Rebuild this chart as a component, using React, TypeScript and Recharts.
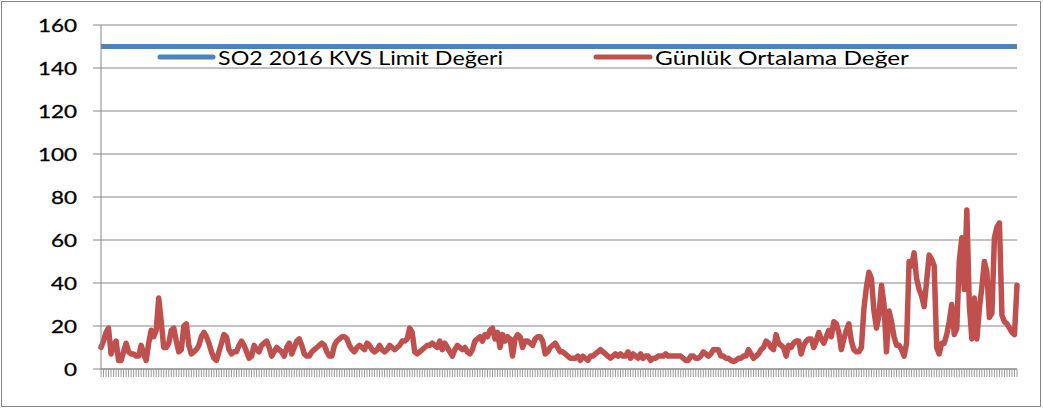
import { LineChart, Line, XAxis, YAxis, CartesianGrid } from "recharts";

// daily SO2 averages, 2016, one array per month
const jan = [10, 13, 17, 19, 7, 11, 13, 4, 4, 8, 12, 8, 7, 7, 6, 6, 11, 7, 4, 12, 18, 15, 18, 33, 22, 10, 10, 12, 18, 19, 13];
const feb = [8, 9, 20, 21, 11, 7, 8, 9, 11, 15, 17, 15, 12, 8, 5, 4, 8, 12, 16, 15, 9, 7, 8, 8, 11, 13, 11, 8, 5];
const mar = [6, 11, 9, 8, 11, 12, 13, 10, 6, 8, 10, 9, 8, 6, 10, 12, 7, 10, 13, 14, 11, 7, 6, 6, 8, 9, 10, 11, 12, 11, 8];
const apr = [6, 6, 11, 13, 14, 15, 15, 14, 11, 9, 8, 10, 11, 10, 9, 12, 11, 9, 8, 9, 11, 9, 8, 9, 11, 10, 9, 10, 11, 13];
const may = [13, 14, 19, 17, 8, 7, 8, 9, 10, 11, 11, 12, 11, 10, 13, 9, 12, 10, 8, 6, 9, 11, 10, 9, 10, 8, 7, 9, 13, 14, 15];
const jun = [13, 16, 15, 18, 19, 14, 17, 10, 16, 13, 15, 14, 6, 14, 16, 15, 10, 13, 13, 12, 11, 14, 15, 15, 13, 7, 8, 10, 11, 12];
const jul = [10, 8, 8, 7, 6, 5, 5, 5, 6, 4, 6, 5, 4, 6, 6, 7, 8, 9, 8, 7, 6, 5, 6, 7, 6, 7, 6, 6, 8, 5, 7];
const aug = [6, 5, 7, 5, 6, 6, 4, 5, 5, 6, 6, 6, 7, 6, 6, 6, 6, 6, 6, 5, 4, 4, 6, 6, 5, 5, 6, 8, 7, 6, 7];
const sep = [9, 9, 9, 6, 6, 5, 5, 4, 3.5, 4, 5, 5, 6, 6, 9, 7, 5, 6, 7, 9, 10, 13, 12, 10, 9, 16, 12, 11, 10, 6];
const oct = [11, 10, 12, 13, 13, 7, 11, 13, 14, 14, 10, 13, 17, 14, 12, 15, 18, 15, 22, 21, 17, 9, 14, 18, 21, 13, 9, 8, 8, 10, 28];
const nov = [38, 45, 42, 27, 19, 25, 39, 30, 8, 27, 22, 15, 11, 11, 9, 6, 12, 50, 48, 54, 42, 37, 34, 29, 41, 53, 51, 48, 10, 7];
const dec = [12, 12, 16, 22, 30, 16, 19, 50, 61, 37, 74, 30, 14, 33, 14, 28, 38, 50, 45, 24, 26, 61, 66, 68, 25, 22, 21, 19, 17, 16, 39];

const monthValues = [jan, feb, mar, apr, may, jun, jul, aug, sep, oct, nov, dec];
const limitValue = 150;
const yTicks = [0, 20, 40, 60, 80, 100, 120, 140, 160];

const limitName = "SO2 2016 KVS Limit Değeri";
const dailyName = "Günlük Ortalama Değer";

const pad = (n: number) => String(n).padStart(2, "0");

const data = monthValues.flatMap((vals, m) =>
  vals.map((v, d) => ({
    day: `${pad(d + 1)}.${pad(m + 1)}.2016`,
    limit: limitValue,
    daily: v,
  }))
);

const FONT = "Lato, 'Noto Sans', sans-serif";
const GRID = "#868686";

function YTick(props: any) {
  const { x, y, payload } = props;
  const label = String(payload.value);
  const w = label.length * 13;
  return (
    <text
      x={x - w}
      y={y + 7}
      textAnchor="start"
      fontFamily={FONT}
      fontSize={18}
      fill="#000"
      stroke="#000"
      strokeWidth={0.3}
      textLength={w}
      lengthAdjust="spacingAndGlyphs"
    >
      {label}
    </text>
  );
}

// x axis has one tick per day but no labels
function EmptyTick() {
  return <g />;
}

export default function App() {
  return (
    <div style={{ position: "absolute", left: 0, top: 0, width: 1043, height: 410, background: "#fff" }}>
      <div
        style={{
          position: "absolute",
          left: 1,
          top: 1,
          width: 1040,
          height: 406,
          border: `1px solid ${GRID}`,
          boxSizing: "border-box",
        }}
      />
      <div style={{ position: "absolute", left: 0, top: 0 }}>
        <LineChart width={1043} height={410} data={data} margin={{ top: 25, right: 26, left: 0, bottom: 33 }}>
          <CartesianGrid vertical={false} stroke={GRID} strokeWidth={1} />
          <XAxis
            dataKey="day"
            interval={0}
            tick={<EmptyTick />}
            tickSize={8}
            height={8}
            axisLine={{ stroke: GRID }}
            tickLine={{ stroke: "#9a9a9a" }}
          />
          <YAxis
            width={101}
            domain={[0, 160]}
            ticks={yTicks}
            interval={0}
            tickSize={8}
            tickMargin={16}
            axisLine={{ stroke: GRID }}
            tickLine={{ stroke: GRID }}
            tick={<YTick />}
          />
          <Line
            dataKey="limit"
            name={limitName}
            stroke="#4F81BD"
            strokeWidth={5}
            dot={false}
            activeDot={false}
            isAnimationActive={false}
          />
          <Line
            dataKey="daily"
            name={dailyName}
            stroke="#C0504D"
            strokeWidth={5.5}
            strokeLinejoin="round"
            strokeLinecap="round"
            dot={false}
            activeDot={false}
            isAnimationActive={false}
          />
        </LineChart>
      </div>
      <svg width={1043} height={410} style={{ position: "absolute", left: 0, top: 0, pointerEvents: "none" }}>
        <line x1={160} y1={57} x2={213} y2={57} stroke="#4F81BD" strokeWidth={5} strokeLinecap="round" />
        <text x={218} y={65} fontFamily={FONT} fontSize={20} fill="#000" textLength={285} lengthAdjust="spacingAndGlyphs">
          {limitName}
        </text>
        <line x1={596} y1={57} x2={650} y2={57} stroke="#C0504D" strokeWidth={5} strokeLinecap="round" />
        <text x={655} y={65} fontFamily={FONT} fontSize={20} fill="#000" textLength={254} lengthAdjust="spacingAndGlyphs">
          {dailyName}
        </text>
      </svg>
    </div>
  );
}
